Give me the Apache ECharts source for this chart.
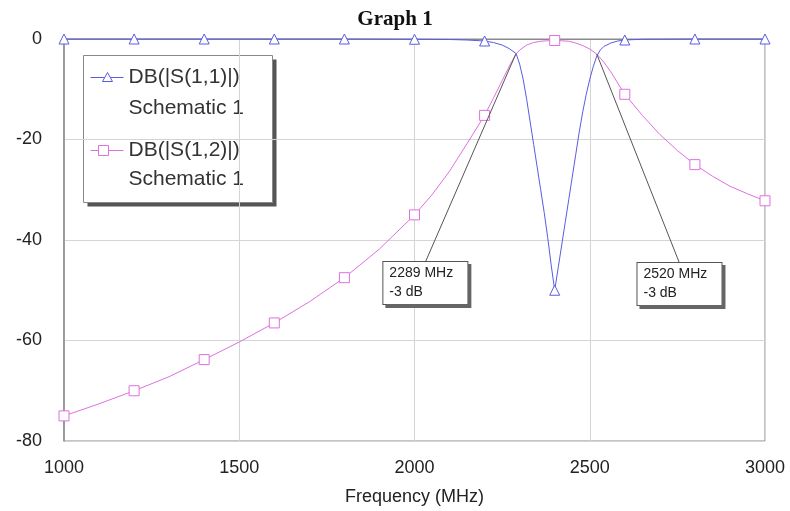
<!DOCTYPE html>
<html>
<head>
<meta charset="utf-8">
<title>Graph 1</title>
<script src="https://cdn.jsdelivr.net/npm/echarts@6/dist/echarts.min.js"></script>
<style>
  html, body { margin: 0; padding: 0; background: #fff; }
  #chart { width: 790px; height: 511px; }
</style>
</head>
<body>
<div id="chart"></div>
<script>
// DB(|S(1,1)|) - reflection
var s11Freq = [1000, 1200, 1400, 1600, 1800, 2000, 2100, 2150, 2200, 2225, 2250, 2270, 2290,
  2300, 2310, 2320, 2330, 2340, 2350, 2360, 2370, 2380, 2390, 2400, 2410, 2420, 2430, 2440,
  2450, 2460, 2470, 2480, 2490, 2500, 2510, 2520, 2530, 2540, 2560, 2580, 2600, 2650, 2800, 3000];
var s11Db = [0, 0, 0, 0, 0, -0.05, -0.1, -0.2, -0.4, -0.7, -1.2, -1.9, -2.9,
  -5, -8, -12, -16.5, -21, -25.5, -30, -34.5, -39.5, -45, -50, -45.5, -41, -36.5, -32,
  -27.5, -23, -18.5, -14.5, -11, -8, -5.5, -3.4, -2.2, -1.5, -0.8, -0.4, -0.2, -0.05, 0, 0];

// DB(|S(1,2)|) - transmission
var s12Freq = [1000, 1100, 1200, 1300, 1400, 1500, 1600, 1700, 1800, 1900, 2000, 2050, 2100,
  2150, 2200, 2225, 2250, 2275, 2290, 2300, 2320, 2340, 2360, 2380, 2400, 2420, 2440, 2460,
  2480, 2500, 2520, 2540, 2560, 2580, 2600, 2650, 2700, 2750, 2800, 2850, 2900, 2950, 3000];
var s12Db = [-75, -72.6, -70, -67.2, -63.8, -60.3, -56.5, -52.3, -47.5, -41.8, -35, -31, -26.3,
  -20.8, -15.2, -11.8, -8.3, -4.8, -3, -2.2, -1.2, -0.7, -0.45, -0.35, -0.3, -0.35, -0.45, -0.8,
  -1.3, -2, -3, -4.6, -6.5, -8.8, -11, -15.2, -19, -22.2, -25, -27.3, -29.3, -30.8, -32.2];

var markerStep = 200;

// -3 dB markers
var markerFreq = [2289, 2520];
var markerDb = [-3, -3];
var markerBoxAt = [[2031, -44.4], [2756, -44.6]];

var yTicks = [-80, -60, -40, -20, 0];
var xTicks = [1000, 1500, 2000, 2500, 3000];

var blue = '#5b5be3';
var pink = '#df70df';
var font = "'Liberation Sans', Arial, sans-serif";

function pts(freq, db, symbol) {
  return freq.map(function (f, i) {
    return {
      value: [f, db[i]],
      symbol: f % markerStep === 0 ? symbol : 'none'
    };
  });
}

var chart = echarts.init(document.getElementById('chart'));

var option = {
  animation: false,
  backgroundColor: '#fff',
  title: {
    text: 'Graph 1',
    left: 'center',
    top: 4,
    textStyle: {
      fontFamily: "'Liberation Serif', 'Times New Roman', serif",
      fontWeight: 'bold',
      fontSize: 21,
      color: '#111'
    }
  },
  grid: {
    left: 64,
    top: 39,
    right: 25,
    bottom: 70,
    show: true,
    borderColor: '#8a8a8a',
    borderWidth: 1
  },
  xAxis: {
    type: 'value',
    min: xTicks[0],
    max: xTicks[xTicks.length - 1],
    interval: 500,
    name: 'Frequency (MHz)',
    nameLocation: 'middle',
    nameGap: 47,
    nameTextStyle: { fontFamily: font, fontSize: 18, color: '#222' },
    axisLine: { show: true, lineStyle: { color: '#8a8a8a' } },
    axisTick: { show: false },
    axisLabel: {
      margin: 18,
      fontFamily: font,
      fontSize: 18,
      color: '#222',
      formatter: function (v) { return String(v); }
    },
    splitLine: { lineStyle: { color: '#d4d4d4' } }
  },
  yAxis: {
    type: 'value',
    min: yTicks[0],
    max: yTicks[yTicks.length - 1],
    interval: 20,
    axisLine: { show: true, lineStyle: { color: '#8a8a8a', width: 1.5 } },
    axisTick: { show: false },
    axisLabel: { margin: 22, fontFamily: font, fontSize: 18, color: '#222' },
    splitLine: { lineStyle: { color: '#d4d4d4' } }
  },
  series: [
    {
      name: 'DB(|S(1,2)|)',
      type: 'line',
      data: pts(s12Freq, s12Db, 'rect'),
      symbolSize: 10,
      showAllSymbol: true,
      clip: false,
      lineStyle: { color: pink, width: 1 },
      itemStyle: { color: '#fff', borderColor: pink, borderWidth: 1 },
      z: 2
    },
    {
      name: 'DB(|S(1,1)|)',
      type: 'line',
      data: pts(s11Freq, s11Db, 'triangle'),
      symbolSize: 10,
      showAllSymbol: true,
      clip: false,
      lineStyle: { color: blue, width: 1 },
      itemStyle: { color: '#fff', borderColor: blue, borderWidth: 1 },
      z: 3,
      markLine: {
        silent: true,
        symbol: 'none',
        label: { show: false },
        lineStyle: { color: '#555', type: 'solid', width: 1 },
        data: markerFreq.map(function (f, i) {
          return [{ coord: [f, markerDb[i]] }, { coord: markerBoxAt[i] }];
        })
      },
      markPoint: {
        silent: true,
        symbol: 'circle',
        symbolSize: 0,
        data: markerFreq.map(function (f, i) {
          return {
            coord: markerBoxAt[i],
            label: {
              show: true,
              position: 'bottom',
              distance: 0,
              formatter: '{a|' + f + ' MHz}\n{a|' + markerDb[i] + ' dB}',
              backgroundColor: '#fff',
              borderColor: '#555',
              borderWidth: 1,
              shadowColor: '#666',
              shadowOffsetX: 3,
              shadowOffsetY: 3,
              shadowBlur: 0,
              padding: [2, 6],
              rich: {
                a: {
                  width: 72,
                  align: 'left',
                  fontFamily: font,
                  fontSize: 14,
                  lineHeight: 19,
                  color: '#222'
                }
              }
            }
          };
        })
      }
    }
  ],
  graphic: [
    {
      type: 'group',
      left: 83,
      top: 55,
      children: [
        {
          type: 'rect',
          shape: { x: 4, y: 4, width: 189, height: 147 },
          style: { fill: '#555' }
        },
        {
          type: 'rect',
          shape: { x: 0, y: 0, width: 189, height: 147 },
          style: { fill: '#fff', stroke: '#888', lineWidth: 1 }
        },
        { type: 'line', shape: { x1: 7, y1: 22, x2: 40, y2: 22 }, style: { stroke: blue, lineWidth: 1 } },
        { type: 'polygon', shape: { points: [[24, 17], [19, 26], [29, 26]] }, style: { fill: '#fff', stroke: blue, lineWidth: 1 } },
        { type: 'text', x: 45, y: 22, style: { text: 'DB(|S(1,1)|)', font: '21px ' + font, fill: '#333', verticalAlign: 'middle' } },
        { type: 'text', x: 45, y: 53, style: { text: 'Schematic 1', font: '21px ' + font, fill: '#333', verticalAlign: 'middle' } },
        { type: 'line', shape: { x1: 7, y1: 95, x2: 40, y2: 95 }, style: { stroke: pink, lineWidth: 1 } },
        { type: 'rect', shape: { x: 15, y: 90, width: 10, height: 10 }, style: { fill: '#fff', stroke: pink, lineWidth: 1 } },
        { type: 'text', x: 45, y: 95, style: { text: 'DB(|S(1,2)|)', font: '21px ' + font, fill: '#333', verticalAlign: 'middle' } },
        { type: 'text', x: 45, y: 124, style: { text: 'Schematic 1', font: '21px ' + font, fill: '#333', verticalAlign: 'middle' } }
      ]
    }
  ]
};

chart.setOption(option);
</script>
</body>
</html>
